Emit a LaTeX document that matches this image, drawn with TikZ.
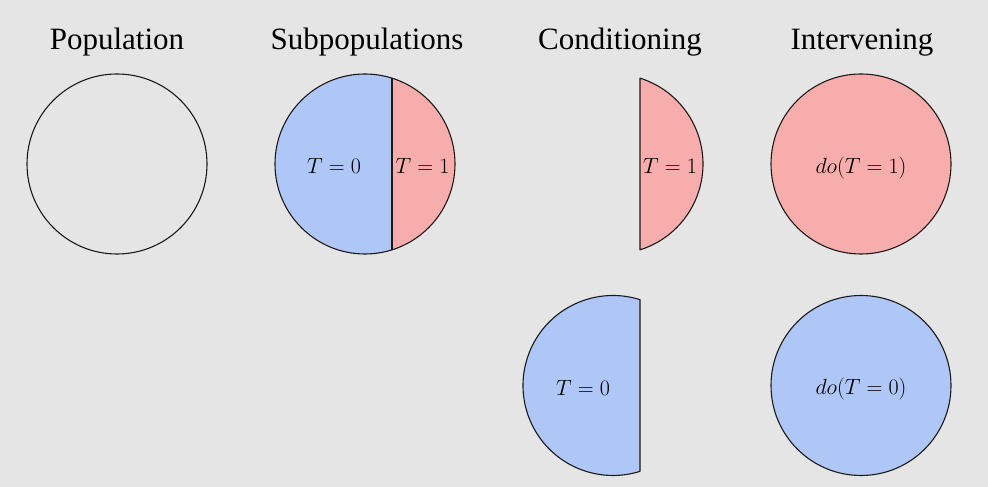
\documentclass[tikz,border=0pt]{standalone}
\usepackage{fix-cm}
\usepackage{fontspec}
\newfontfamily\titlefont{Liberation Serif}
\definecolor{bg}{HTML}{E5E5E5}
\definecolor{tblue}{RGB}{174,199,247}
\definecolor{tred}{RGB}{248,173,173}
\definecolor{edge}{RGB}{30,25,25}
\tikzset{
  title/.style={anchor=base, font=\titlefont\fontsize{31}{36}\selectfont, text=black},
  lbl/.style={font=\fontsize{22}{26}\selectfont, inner sep=0pt},
  disc/.style={circle, draw=edge, line width=1.1pt, minimum size=180pt, inner sep=0pt},
  seg/.style={draw=edge, line width=1.1pt, line join=round},
}
\begin{document}
\begin{tikzpicture}[x=1pt,y=1pt]
\fill[bg] (0,0) rectangle (988,487);
\useasboundingbox (0,0) rectangle (988,487);

% titles
\node[title] (t1) at (117,437) {Population};
\node[title] (t2) at (367,437) {Subpopulations};
\node[title] (t3) at (620,437) {Conditioning};
\node[title] (t4) at (862,437) {Intervening};

% Population
\node[disc] (pop) at (117,323) {};

% Subpopulations
\fill[tblue] (392,408.85) arc[start angle=72.54, end angle=287.46, radius=90] -- cycle;
\fill[tred] (392,408.85) arc[start angle=72.54, end angle=-72.54, radius=90] -- cycle;
\node[disc] (sub) at (365,323) {};
\draw[seg] (392,408.85) -- (392,237.15);
\node[lbl] (s0) at (334,321.5) {$T=0$};
\node[lbl] (s1) at (422.5,321.5) {$T=1$};

% Conditioning
\draw[seg, fill=tred] (640,408.85) arc[start angle=72.54, end angle=-72.54, radius=90] -- cycle;
\node[lbl] (c1) at (670,321.5) {$T=1$};
\draw[seg, fill=tblue] (640,187.35) arc[start angle=72.54, end angle=287.46, radius=90] -- cycle;
\node[lbl] (c0) at (583,99) {$T=0$};

% Intervening
\node[disc, fill=tred] (i1) at (861,323) {};
\node[lbl] (i1l) at (861,319) {$do(T=1)$};
\node[disc, fill=tblue] (i0) at (861,101.5) {};
\node[lbl] (i0l) at (861,97.5) {$do(T=0)$};
\end{tikzpicture}
\end{document}
